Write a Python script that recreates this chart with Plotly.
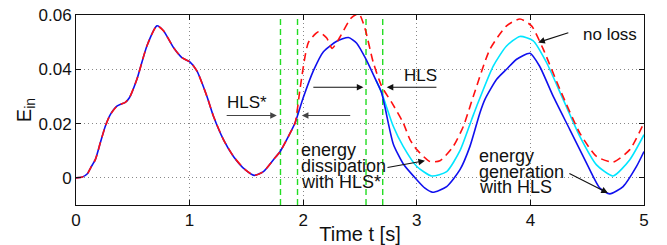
import plotly.graph_objects as go

# shared part (blue and red coincide)
t_common = [0, 0.05, 0.1, 0.13, 0.17, 0.214, 0.258, 0.302, 0.36, 0.4, 0.434, 0.47, 0.536, 0.624,
            0.712, 0.77, 0.858, 0.932, 1.0, 1.064, 1.152, 1.21, 1.298, 1.386, 1.489, 1.568, 1.65,
            1.738, 1.797, 1.87, 1.929]
e_common = [0, 0.0002, 0.0015, 0.0038, 0.0067, 0.0129, 0.019, 0.0233, 0.0264, 0.0272, 0.0278, 0.0295,
            0.0363, 0.0486, 0.056, 0.0542, 0.048, 0.0443, 0.0428, 0.0394, 0.0301, 0.0227, 0.0141,
            0.0079, 0.003, 0.0009, 0.0023, 0.0067, 0.0097, 0.0153, 0.0203]

t_hls = [2.0, 2.09, 2.178, 2.295, 2.398, 2.471, 2.559, 2.64, 2.69, 2.72, 2.793, 2.88, 3.0,
         3.072, 3.14, 3.263, 3.38, 3.468, 3.556, 3.6, 3.703, 3.79, 3.879, 3.996, 4.08, 4.2,
         4.347, 4.494, 4.611, 4.699, 4.816, 4.934, 5.0]
e_hls = [0.0295, 0.0395, 0.0465, 0.0503, 0.0517, 0.0496, 0.0432, 0.036, 0.0314, 0.026, 0.0125,
         0.0052, -0.0007, -0.0038, -0.0053, -0.0032, 0.003, 0.0116, 0.024, 0.0289, 0.0363, 0.04,
         0.0437, 0.0459, 0.0412, 0.0301, 0.0178, 0.0054, -0.0038, -0.0059, -0.0032, 0.0042, 0.0097]

t_noloss = [2.64, 2.69, 2.793, 2.88, 3.0, 3.131, 3.263, 3.38, 3.483, 3.527, 3.673, 3.79, 3.908,
            4.025, 4.142, 4.288, 4.435, 4.582, 4.728, 4.875, 5.0]
e_noloss = [0.036, 0.0314, 0.019, 0.0116, 0.0042, 0.0007, 0.0023, 0.01, 0.0215, 0.0264, 0.0412,
            0.0486, 0.0521, 0.0505, 0.0425, 0.0289, 0.0153, 0.0048, 0.0007, 0.0067, 0.0159]

t_star = [1.973, 2.046, 2.134, 2.207, 2.255, 2.325, 2.42, 2.49, 2.544, 2.617, 2.69, 2.78, 2.88,
          2.94, 3.0, 3.116, 3.204, 3.321, 3.41, 3.497, 3.644, 3.79, 3.908, 4.01, 4.113, 4.26,
          4.435, 4.582, 4.728, 4.875, 5.0]
e_star = [0.033, 0.0499, 0.0538, 0.0515, 0.0477, 0.052, 0.0588, 0.0605, 0.055, 0.0425, 0.0338,
          0.0277, 0.0203, 0.0141, 0.0104, 0.006, 0.0063, 0.0116, 0.019, 0.03, 0.0474, 0.056,
          0.0585, 0.056, 0.0474, 0.0326, 0.0165, 0.0079, 0.0058, 0.0104, 0.0203]

switch_times = [1.80, 1.95, 2.553, 2.70]

x_ticks = [0, 1, 2, 3, 4, 5]
y_ticks = [0, 0.02, 0.04, 0.06]
y_ticktext = ["0", "0.02", "0.04", "0.06"]

dissipation_lines = ["energy", "dissipation", "with HLS*"]
generation_lines = ["energy", "generation", "with HLS"]

FONT = "Liberation Sans, Arial, sans-serif"

fig = go.Figure()
fig.add_trace(go.Scatter(x=t_noloss, y=e_noloss, mode="lines",
                         line=dict(color="#00e5ff", width=1.6, shape="spline", smoothing=0.6)))
fig.add_trace(go.Scatter(x=t_common + t_hls, y=e_common + e_hls, mode="lines",
                         line=dict(color="#1010ee", width=1.6, shape="spline", smoothing=0.6)))
fig.add_trace(go.Scatter(x=t_common + t_star, y=e_common + e_star, mode="lines",
                         line=dict(color="#ff1010", width=1.6, dash="8px,5px", shape="spline", smoothing=0.6)))

for ts in switch_times:
    fig.add_shape(type="line", x0=ts, x1=ts, y0=0, y1=1, xref="x", yref="paper",
                  line=dict(color="#22dd22", width=1.4, dash="6px,4px"), layer="below")

def arrow(x, y, ax, ay, color="#111"):
    fig.add_annotation(x=x, y=y, ax=ax, ay=ay, xref="x", yref="y", axref="x", ayref="y",
                       text="", showarrow=True, arrowhead=2, arrowsize=1.2, arrowwidth=1.1,
                       arrowcolor=color)

arrow(1.768, 0.0230, 1.313, 0.0230, "#444")
arrow(1.988, 0.0230, 2.427, 0.0230, "#444")
arrow(2.53, 0.0334, 2.076, 0.0334)
arrow(2.735, 0.0334, 3.186, 0.0334)
arrow(3.072, 0.0063, 2.729, 0.0037)
arrow(4.682, -0.0056, 4.33, 0.0019)
arrow(4.069, 0.0499, 4.347, 0.0536)

def label(x, y, text, xanchor="center", size=17):
    fig.add_annotation(x=x, y=y, xref="x", yref="y", text=text, showarrow=False,
                       xanchor=xanchor, yanchor="middle", align="left", borderpad=0,
                       font=dict(family=FONT, size=size, color="#111"))

label(1.507, 0.0278, "HLS*")
label(3.036, 0.0378, "HLS")
label(4.699, 0.0530, "no loss")
for txt, yy in zip(dissipation_lines, [0.0101, 0.0043, -0.0014]):
    label(1.973, yy, txt, xanchor="left", size=18)
for txt, yy in zip(generation_lines, [0.0080, 0.0022, -0.0033]):
    label(3.541, yy, txt, xanchor="left", size=18)

# page body adds an 8px margin, so the figure is sized to fit inside the window
fig.update_layout(
    width=659, height=237,
    margin=dict(l=68, r=23, t=7, b=40),
    paper_bgcolor="white", plot_bgcolor="white",
    showlegend=False,
    font=dict(family=FONT, size=17, color="#111"),
    xaxis=dict(range=[0, 5], tickvals=x_ticks, ticks="inside", ticklen=5, tickcolor="#111",
               showline=True, linecolor="#111", linewidth=1, mirror="ticks",
               showgrid=True, gridcolor="#888", griddash="1px,3px", gridwidth=1,
               zeroline=False, title=dict(text="Time t [s]", standoff=0),
               tickfont=dict(size=17), automargin=False, ticklabeloverflow="allow"),
    yaxis=dict(range=[-0.01, 0.06], tickvals=y_ticks, ticktext=y_ticktext, ticks="inside",
               ticklen=5, tickcolor="#111", showline=True, linecolor="#111", linewidth=1,
               mirror="ticks", showgrid=True, gridcolor="#888", griddash="1px,3px", gridwidth=1,
               zeroline=False, title=dict(text="E<sub>in</sub>", standoff=0),
               tickfont=dict(size=17), automargin=False, ticklabeloverflow="allow"),
)

fig.write_html("out.html")
